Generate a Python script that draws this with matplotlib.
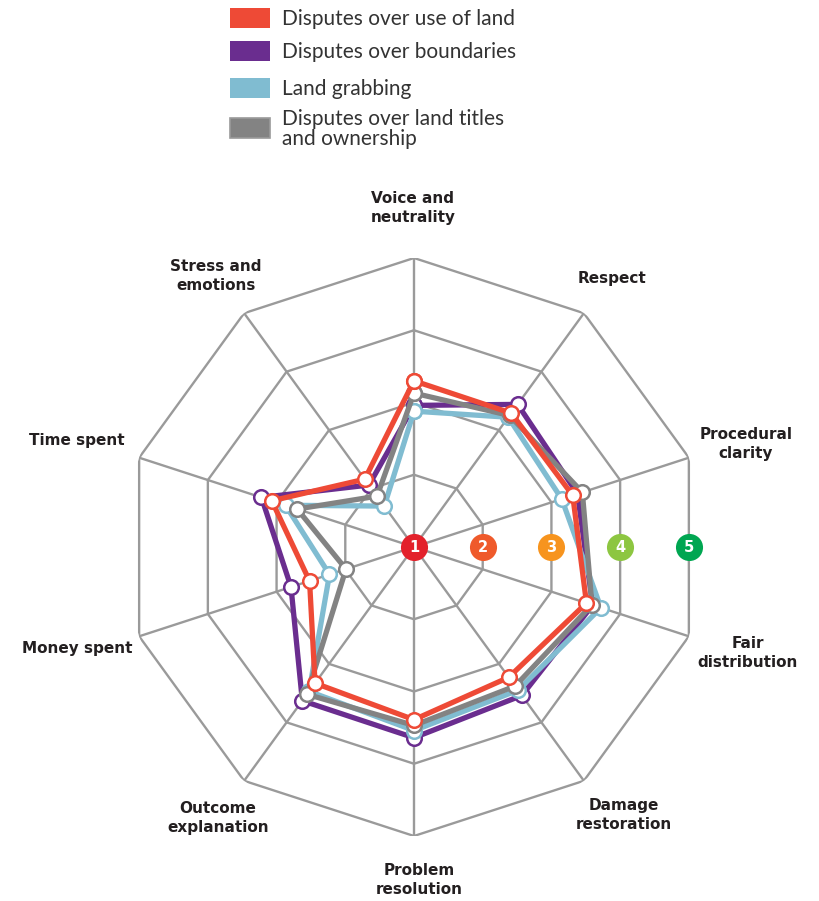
import numpy as np
import matplotlib
matplotlib.use("Agg")
import matplotlib.pyplot as plt
from matplotlib.patches import Rectangle

# axes, clockwise from the top
categories = ["Voice and\nneutrality", "Respect", "Procedural\nclarity", "Fair\ndistribution",
              "Damage\nrestoration", "Problem\nresolution", "Outcome\nexplanation",
              "Money spent", "Time spent", "Stress and\nemotions"]

series_names = ["Disputes over use of land", "Disputes over boundaries", "Land grabbing",
                "Disputes over land titles\nand ownership"]

use_of_land = [3.30, 3.29, 3.31, 3.51, 3.23, 3.39, 3.33, 2.52, 3.07, 2.16]
boundaries = [2.96, 3.44, 3.38, 3.60, 3.54, 3.64, 3.63, 2.79, 3.22, 2.06]
land_grabbing = [2.88, 3.22, 3.15, 3.72, 3.45, 3.54, 3.47, 2.23, 2.87, 1.70]
titles = [3.13, 3.25, 3.45, 3.59, 3.38, 3.47, 3.52, 1.99, 2.70, 1.87]

levels = [1, 2, 3, 4, 5]
level_colors = ["#E3212B", "#EF5A2B", "#F7941E", "#8DC641", "#00A651"]

red, purple, blue, gray = "#EE4A36", "#6A2D8F", "#80BCD1", "#838383"
grid_c = "#9A9A9A"

W, H = 820, 901
fig = plt.figure(figsize=(W / 100, H / 100), dpi=100)

cx, cy, R = 414, 547, 289
ax = fig.add_axes([(cx - R) / W, (H - cy - R) / H, 2 * R / W, 2 * R / H], projection="polar")
ax.set_theta_zero_location("N")
ax.set_theta_direction(-1)
ax.set_rlim(0, 4)
ax.axis("off")

n = len(categories)
theta = np.deg2rad(np.arange(n) * 360 / n)
th_closed = np.append(theta, theta[0])

# decagon grid and spokes
for lv in levels[1:]:
    ax.plot(th_closed, [lv - 1] * (n + 1), color=grid_c, lw=1.7, zorder=1)
for t in theta:
    ax.plot([t, t], [0, 4], color=grid_c, lw=1.7, zorder=1)

# series
order = [(boundaries, purple), (land_grabbing, blue), (titles, gray), (use_of_land, red)]
for i, (vals, c) in enumerate(order):
    r = np.array(vals + [vals[0]]) - 1
    ax.plot(th_closed, r, color=c, lw=3.8, zorder=3 + i, solid_joinstyle="miter",
            marker="o", ms=10.5, mfc="white", mec=c, mew=1.8)

# scale markers along the horizontal (between two spokes)
cos18 = np.cos(np.deg2rad(18))
for lv, c in zip(levels, level_colors):
    rr = (lv - 1) * cos18
    ax.plot([np.pi / 2], [rr], marker="o", ms=19.5, color=c, mec="none", zorder=10, clip_on=False)
    ax.text(np.pi / 2, rr, str(lv), color="white", fontsize=10.5, fontweight="bold",
            ha="center", va="center", zorder=11)

# axis labels
label_pos = [(413, 208), (612, 279), (746, 444), (748, 653), (624, 815),
             (419, 880), (218, 818), (77, 648), (77, 441), (216, 276)]
for lab, (x, y) in zip(categories, label_pos):
    fig.text(x / W, 1 - y / H, lab, ha="center", va="center", fontsize=11,
             fontweight="bold", color="#231F20", linespacing=1.3)

# legend
leg_y = [18, 51, 88, 128]
leg_c = [red, purple, blue, gray]
for name, y, c in zip(series_names, leg_y, leg_c):
    ec = "#9a9a9a" if c == gray else "none"
    fig.patches.append(Rectangle((230 / W, 1 - (y + 10) / H), 40 / W, 20 / H, transform=fig.transFigure,
                                 facecolor=c, edgecolor=ec, lw=1.2))
    fig.text(282 / W, 1 - (y + 1) / H, name, ha="left", va="center", fontsize=15,
             family=["Lato", "DejaVu Sans"], color="#333333", linespacing=1.0)

fig.savefig("out.png", dpi=100)
